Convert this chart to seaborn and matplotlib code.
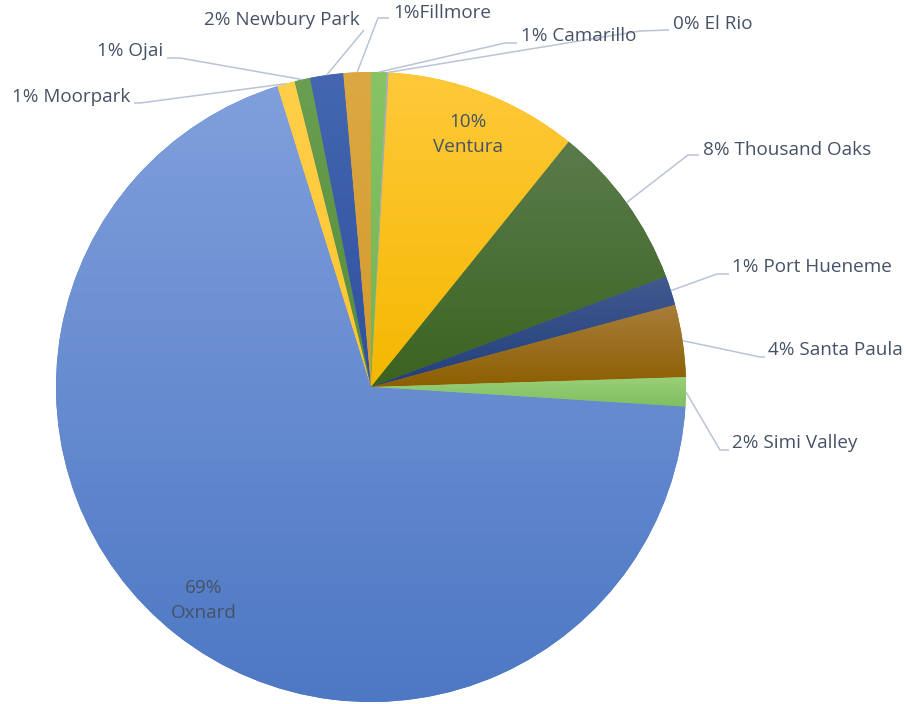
import numpy as np
import seaborn as sns
import matplotlib.pyplot as plt
from matplotlib.colors import to_rgb

# ------------------- DATA -------------------
# slices in clockwise order starting at 12 o'clock
towns = ["Camarillo", "El Rio", "Ventura", "Thousand Oaks", "Port Hueneme",
         "Santa Paula", "Simi Valley", "Oxnard", "Moorpark", "Ojai",
         "Newbury Park", "Fillmore"]
shares = [0.8, 0.1, 9.9, 8.5, 1.5, 3.7, 1.5, 69.2, 0.9, 0.8, 1.7, 1.4]
pct_shown = [1, 0, 10, 8, 1, 4, 2, 69, 1, 1, 2, 1]

# gradient colours: top (light) -> bottom (dark)
light = ["#86c466", "#b0b0b0", "#ffc93a", "#5a7c4c", "#415a90",
         "#a87e3c", "#9ad07a", "#809fdc", "#ffcf4a", "#6a9e50",
         "#4467b0", "#dca843"]
dark = ["#72b450", "#a0a0a0", "#f4b800", "#3c6320", "#223f7a",
        "#8c5f00", "#7fbe5e", "#4d78c4", "#ffc52e", "#568c3c",
        "#2f50a0", "#d49a2c"]

# ------------------- LAYOUT (pixels, y down) -------------------
W, H = 907, 704
CX, CY, R = 371, 387, 315
inside = ["Ventura", "Oxnard"]
outside = {
    "El Rio":        ((640, 31), (669, 30), (673, 24), "left"),
    "Camarillo":     ((505, 43), (517, 43), (521, 36), "left"),
    "Fillmore":      ((378, 18), (389, 18), (393, 13), "left"),
    "Newbury Park":  ((364, 30), (364, 30), (360, 20), "right"),
    "Ojai":          ((180, 58), (167, 58), (163, 51), "right"),
    "Moorpark":      ((140, 103), (134, 103), (130, 97), "right"),
    "Thousand Oaks": ((688, 155), (699, 155), (703, 150), "left"),
    "Port Hueneme":  ((717, 274), (729, 274), (732, 267), "left"),
    "Santa Paula":   ((760, 357), (765, 357), (768, 350), "left"),
    "Simi Valley":   ((720, 450), (729, 450), (732, 443), "left"),
}

TEXT = "#465266"
LINE = "#b9c4d6"
FS = 13.6

sns.set_theme(style="white")
plt.rcParams["font.family"] = ["Open Sans", "DejaVu Sans"]

fig = plt.figure(figsize=(W / 100, H / 100), dpi=100)
ax = fig.add_axes([0, 0, 1, 1])


def P(x, y):
    return x, H - y


wedges, _ = ax.pie(shares, colors=dark, startangle=90, counterclock=False,
                   center=P(CX, CY), radius=R,
                   wedgeprops=dict(linewidth=0))

# vertical gradient inside every slice
grad = np.linspace(0, 1, 256)[:, None, None]
for w, c0, c1 in zip(wedges, light, dark):
    ext = w.get_path().get_extents()
    img = (1 - grad) * np.array(to_rgb(c0)) + grad * np.array(to_rgb(c1))
    im = ax.imshow(img, extent=(ext.x0, ext.x1, ext.y0, ext.y1), origin="upper",
                   aspect="auto", interpolation="bilinear", zorder=1.5)
    im.set_clip_path(w)

for w, town, p in zip(wedges, towns, pct_shown):
    mid = np.deg2rad((w.theta1 + w.theta2) / 2)
    if town in inside:
        x = CX + 0.86 * R * np.cos(mid)
        y = CY - 0.86 * R * np.sin(mid)
        ax.text(*P(x, y), f"{p}%\n{town}", ha="center", va="center",
                fontsize=FS, color=TEXT, linespacing=1.5, zorder=3)
        continue
    kink, end, tpos, ha = outside[town]
    rim = (CX + R * np.cos(mid), CY - R * np.sin(mid))
    xs, ys = zip(*[P(*rim), P(*kink), P(*end)])
    ax.plot(xs, ys, color=LINE, lw=1.1, zorder=2.5, solid_capstyle="butt")
    sep = "" if town == "Fillmore" else " "   # label in the source has no space
    ax.text(*P(*tpos), f"{p}%{sep}{town}", ha=ha, va="center",
            fontsize=FS, color=TEXT, zorder=3)

ax.set_xlim(0, W)
ax.set_ylim(0, H)
ax.axis("off")
fig.savefig("out.png", dpi=100)
